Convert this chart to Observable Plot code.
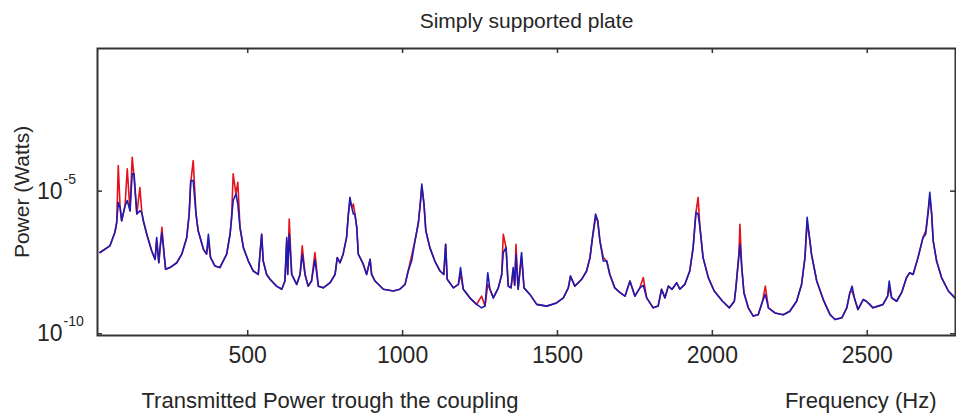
<!DOCTYPE html>
<html>
<head>
<meta charset="utf-8">
<script src="https://cdn.jsdelivr.net/npm/d3@7"></script>
<script src="https://cdn.jsdelivr.net/npm/@observablehq/plot@0.6"></script>
<style>
  html, body { margin: 0; padding: 0; background: #fff; }
</style>
</head>
<body>
<div id="chart"></div>
<script>
// Frequency (Hz) samples
const frequencyHz = [
  23, 55, 71, 77, 82, 88, 93, 104, 111, 120, 127, 133, 142, 152, 158, 163, 174, 190, 201, 206,
  213, 217, 223, 230, 235, 249, 271, 287, 303, 311, 316, 324, 333, 340, 357, 367, 373, 380, 394, 410,
  432, 443, 448, 453, 462, 468, 475, 486, 502, 518, 534, 545, 550, 561, 572, 593, 610, 620, 626, 629,
  634, 642, 658, 669, 676, 685, 695, 706, 717, 728, 744, 766, 782, 789, 798, 808, 819, 825, 830, 836,
  841, 846, 852, 857, 873, 884, 895, 900, 911, 938, 970, 991, 1008, 1018, 1029, 1040, 1051, 1058, 1062, 1069,
  1075, 1088, 1104, 1121, 1133, 1139, 1144, 1164, 1180, 1187, 1196, 1217, 1239, 1255, 1266, 1275, 1282, 1293, 1309, 1320,
  1325, 1334, 1341, 1350, 1357, 1362, 1366, 1373, 1384, 1392, 1411, 1433, 1465, 1497, 1519, 1535, 1542, 1556, 1578, 1594,
  1605, 1613, 1623, 1630, 1637, 1648, 1659, 1669, 1685, 1702, 1718, 1734, 1750, 1766, 1777, 1788, 1809, 1825, 1836, 1847,
  1858, 1870, 1885, 1895, 1911, 1927, 1938, 1947, 1954, 1960, 1970, 1987, 2006, 2033, 2055, 2071, 2076, 2086, 2089, 2095,
  2102, 2116, 2132, 2148, 2162, 2171, 2181, 2202, 2229, 2250, 2272, 2288, 2299, 2306, 2315, 2320, 2337, 2358, 2380, 2396,
  2418, 2434, 2444, 2451, 2460, 2470, 2487, 2497, 2508, 2518, 2535, 2551, 2566, 2571, 2579, 2595, 2611, 2627, 2637, 2648,
  2664, 2680, 2689, 2697, 2702, 2708, 2713, 2724, 2740, 2762, 2783
];

// log10 of power (Watts), blue curve
const blueLog10W = [
  -7.15, -6.92, -6.45, -6.10, -5.39, -5.57, -6.04, -5.51, -5.33, -5.69, -4.39, -4.39, -5.80, -5.69, -5.75, -6.04, -6.51, -7.10, -7.39, -6.63,
  -7.51, -6.98, -6.45, -7.21, -7.74, -7.68, -7.51, -7.21, -6.63, -5.80, -4.63, -4.63, -5.80, -6.39, -7.04, -7.21, -6.51, -7.33, -7.62, -7.68,
  -7.21, -6.51, -5.92, -5.33, -5.10, -5.45, -6.27, -6.98, -7.45, -7.80, -7.92, -6.51, -7.45, -7.92, -8.09, -8.33, -8.44, -8.15, -6.63, -7.92,
  -6.51, -7.92, -8.27, -7.92, -7.21, -7.92, -8.33, -8.15, -7.40, -8.33, -8.39, -8.21, -7.92, -7.33, -7.51, -7.21, -6.63, -5.80, -5.22, -5.57,
  -5.80, -5.80, -6.27, -7.21, -7.56, -7.92, -7.39, -7.92, -8.15, -8.44, -8.50, -8.44, -8.27, -7.80, -7.45, -6.74, -6.10, -5.33, -4.75, -5.45,
  -6.39, -6.98, -7.45, -7.80, -7.92, -6.86, -8.09, -8.39, -8.27, -7.68, -8.44, -8.74, -8.97, -9.09, -9.03, -7.86, -8.44, -8.74, -8.39, -7.92,
  -7.15, -6.98, -8.33, -8.39, -7.68, -8.30, -7.21, -8.44, -7.15, -8.39, -8.62, -8.97, -9.03, -8.92, -8.74, -8.39, -7.98, -8.33, -8.09, -7.80,
  -7.33, -6.63, -5.80, -6.04, -6.74, -7.45, -7.45, -7.92, -8.39, -8.56, -8.68, -8.15, -8.68, -8.39, -8.30, -8.74, -9.09, -9.03, -8.44, -8.74,
  -8.33, -8.44, -8.21, -8.44, -8.27, -7.80, -6.98, -5.75, -5.80, -6.27, -7.33, -8.03, -8.50, -8.86, -9.09, -8.86, -8.39, -7.20, -6.86, -7.68,
  -8.56, -9.09, -9.38, -9.33, -8.86, -8.62, -9.09, -9.27, -9.33, -9.21, -8.86, -8.27, -7.33, -5.92, -6.74, -7.21, -8.15, -8.80, -9.33, -9.50,
  -9.44, -9.09, -8.56, -8.33, -8.80, -9.15, -8.80, -8.86, -8.97, -9.09, -9.03, -8.97, -8.68, -8.15, -8.74, -8.86, -8.56, -8.03, -7.86, -7.92,
  -7.33, -6.63, -6.50, -5.69, -5.04, -5.80, -6.74, -7.45, -8.03, -8.50, -8.74
];

// log10 of power (Watts), red curve
const redLog10W = [
  -7.15, -6.92, -6.45, -6.10, -4.10, -5.57, -6.04, -5.51, -4.22, -5.69, -3.81, -4.50, -5.80, -4.87, -5.75, -6.04, -6.51, -7.10, -7.39, -6.74,
  -7.51, -6.98, -6.27, -7.21, -7.74, -7.68, -7.51, -7.21, -6.63, -5.80, -4.70, -3.93, -5.80, -6.39, -7.04, -7.21, -6.74, -7.33, -7.62, -7.68,
  -7.21, -6.51, -5.92, -4.39, -5.10, -4.69, -6.27, -6.98, -7.45, -7.80, -7.92, -6.51, -7.45, -7.92, -8.09, -8.33, -8.44, -8.15, -6.74, -7.92,
  -5.98, -7.92, -8.27, -7.92, -6.92, -7.92, -8.33, -8.15, -7.15, -8.33, -8.39, -8.21, -7.92, -7.33, -7.51, -7.21, -6.63, -5.80, -5.33, -5.57,
  -5.45, -5.80, -6.27, -7.21, -7.56, -7.92, -7.39, -7.92, -8.15, -8.44, -8.50, -8.44, -8.27, -7.80, -7.27, -6.74, -6.10, -5.33, -4.85, -5.45,
  -6.39, -6.98, -7.45, -7.80, -7.92, -6.86, -8.09, -8.39, -8.27, -7.92, -8.44, -8.74, -8.97, -8.68, -9.03, -8.27, -8.44, -8.74, -8.39, -7.92,
  -6.51, -6.98, -8.33, -8.39, -7.80, -8.30, -6.86, -8.44, -7.30, -8.39, -8.62, -8.97, -9.03, -8.92, -8.74, -8.39, -7.98, -8.33, -8.09, -7.80,
  -7.33, -6.63, -5.95, -6.04, -6.74, -7.33, -7.45, -7.92, -8.39, -8.56, -8.68, -8.15, -8.68, -8.39, -8.03, -8.74, -9.09, -9.03, -8.44, -8.74,
  -8.33, -8.44, -8.21, -8.44, -8.27, -7.80, -6.98, -5.75, -5.22, -6.27, -7.33, -8.03, -8.50, -8.86, -9.09, -8.86, -8.39, -7.20, -6.16, -7.68,
  -8.56, -9.09, -9.38, -9.33, -8.86, -8.33, -9.09, -9.27, -9.33, -9.21, -8.86, -8.27, -7.33, -6.10, -6.74, -7.21, -8.15, -8.80, -9.33, -9.50,
  -9.44, -9.09, -8.56, -8.50, -8.80, -9.15, -8.80, -8.86, -8.97, -9.09, -9.03, -8.97, -8.68, -8.40, -8.74, -8.86, -8.56, -8.03, -7.86, -7.92,
  -7.33, -6.63, -6.39, -5.69, -5.20, -5.80, -6.74, -7.45, -8.03, -8.50, -8.74
];

const xTicks = [500, 1000, 1500, 2000, 2500];
const yTicks = [1e-10, 1e-5];
const yTickExponents = ["-10", "-5"];
const titleText = "Simply supported plate";
const yLabelText = "Power (Watts)";
const captionText = "Transmitted Power trough the coupling";
const xLabelText = "Frequency (Hz)";

const blueData = frequencyHz.map((f, i) => ({f, p: Math.pow(10, blueLog10W[i])}));
const redData = frequencyHz.map((f, i) => ({f, p: Math.pow(10, redLog10W[i])}));

const frameH = 335 - 48;
const frameW = 955 - 97;
const tickLen = 5;
const textColor = "#262626";

const chart = Plot.plot({
  width: 956,
  height: 413,
  marginLeft: 97,
  marginRight: 1,
  marginTop: 48,
  marginBottom: 78,
  style: {fontFamily: "'Liberation Sans', Arial, sans-serif", background: "#fff", color: textColor},
  x: {domain: [15, 2785], axis: null},
  y: {type: "log", domain: [Math.pow(10, -10.06), 1], axis: null},
  marks: [
    Plot.line(redData, {x: "f", y: "p", stroke: "#e3121c", strokeWidth: 1.6}),
    Plot.line(blueData, {x: "f", y: "p", stroke: "#1c1cb4", strokeWidth: 1.6}),
    // inward ticks (bottom, top, left, right)
    Plot.ruleX(xTicks, {x: d => d, insetTop: frameH - tickLen, stroke: "#333", strokeWidth: 1.5}),
    Plot.ruleX(xTicks, {x: d => d, insetBottom: frameH - tickLen, stroke: "#333", strokeWidth: 1.5}),
    Plot.ruleY(yTicks, {y: d => d, insetRight: frameW - tickLen, stroke: "#333", strokeWidth: 1.5}),
    Plot.ruleY(yTicks, {y: d => d, insetLeft: frameW - tickLen, stroke: "#333", strokeWidth: 1.5}),
    Plot.frame({stroke: "#333", strokeWidth: 2}),
    // x tick labels
    Plot.text(xTicks, {x: d => d, text: d => String(d), frameAnchor: "bottom", lineAnchor: "top", dy: 11, fontSize: 23, fill: textColor}),
    // y tick labels 10^exp
    Plot.text(yTicks, {y: d => d, text: () => "10", frameAnchor: "left", textAnchor: "end", lineAnchor: "middle", dx: -35, fontSize: 23, fill: textColor}),
    Plot.text(yTicks, {y: d => d, text: (d, i) => yTickExponents[i], frameAnchor: "left", textAnchor: "start", lineAnchor: "middle", dx: -34, dy: -12, fontSize: 14, fill: textColor}),
    // title
    Plot.text([titleText], {text: d => d, frameAnchor: "top", textAnchor: "middle", lineAnchor: "bottom", dy: -21, fontSize: 21, fill: textColor}),
    // y label
    Plot.text([yLabelText], {text: d => d, frameAnchor: "left", textAnchor: "middle", rotate: -90, lineAnchor: "middle", dx: -75, fontSize: 21, fill: textColor}),
    // bottom caption and x label
    Plot.text([captionText], {text: d => d, frameAnchor: "bottom-left", textAnchor: "start", lineAnchor: "bottom", dx: 44, dy: 72, fontSize: 22, fill: textColor}),
    Plot.text([xLabelText], {text: d => d, frameAnchor: "bottom-right", textAnchor: "end", lineAnchor: "bottom", dx: -19, dy: 72, fontSize: 22, fill: textColor})
  ]
});
document.getElementById("chart").appendChild(chart);
</script>
</body>
</html>
